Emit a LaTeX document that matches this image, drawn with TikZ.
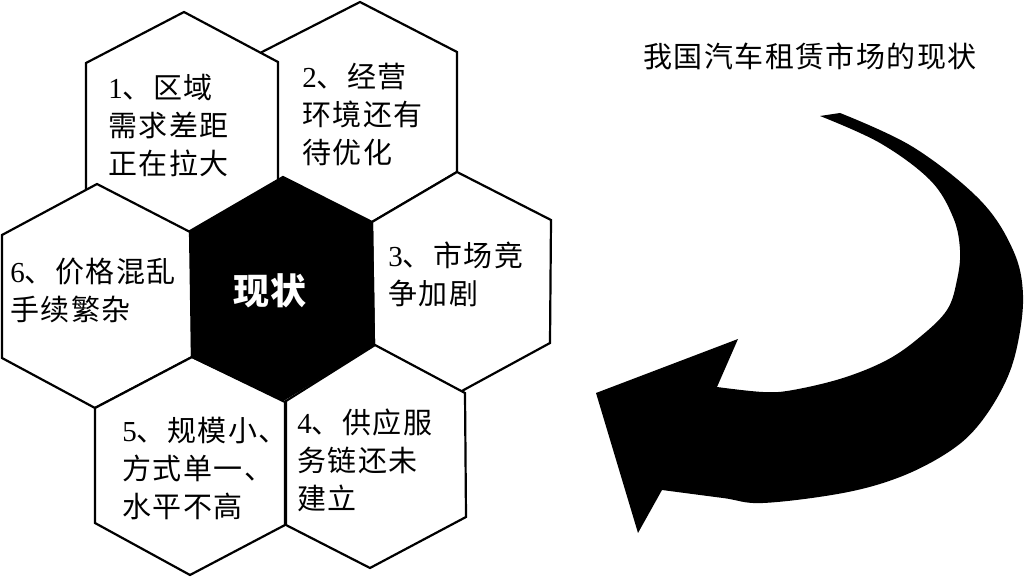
\documentclass[tikz,border=0pt]{standalone}
\usepackage{fontspec}
\setmainfont{Liberation Serif}
\newfontfamily\cjk[LetterSpace=5]{Noto Sans CJK SC}
\begin{document}
\begin{tikzpicture}[x=0.5pt,y=-0.5pt,
  hexa/.style={draw=black, fill=white, line width=1.1pt, line join=miter},
  hexc/.style={draw=black, fill=black, line width=1.1pt, line join=miter},
  hextext/.style={font=\cjk\fontsize{14.5}{19}\selectfont, align=left, anchor=west, inner sep=0pt},
  ctext/.style={font=\cjk\bfseries\fontsize{18}{20}\selectfont, text=white, inner sep=0pt},
  ttext/.style={font=\cjk\fontsize{14.5}{17}\selectfont, inner sep=0pt}]
\useasboundingbox (0,0) rectangle (1024,577);
% hexagons
\draw[hexa] (360,2) -- (457,52) -- (457,172) -- (372,222) -- (360,230) -- (262,172) -- (262,52) -- cycle;   % 2
\draw[hexa] (184,12) -- (278,62) -- (278,188) -- (182,238) -- (86,189) -- (86,63) -- cycle;    % 1
\draw[hexa] (457,172) -- (551,220) -- (550,343) -- (460,392) -- (374,345) -- (372,222) -- cycle; % 3
\draw[hexa] (97,184) -- (192,233) -- (192,357) -- (95,408) -- (2,358) -- (2,235) -- cycle;     % 6
\draw[hexa] (192,357) -- (285,402) -- (285,525) -- (190,575) -- (95,523) -- (95,408) -- cycle; % 5
\draw[hexa] (375,345) -- (465,393) -- (466,517) -- (370,568) -- (286,525) -- (286,401) -- cycle; % 4
\draw[hexc] (283,177) -- (372,222) -- (374,345) -- (283,400) -- (192,357) -- (190,231) -- cycle; % centre
% texts
\node[hextext] (t1) at (108,125) {{\rmfamily 1}、区域\\需求差距\\正在拉大};
\node[hextext] (t2) at (302,114) {{\rmfamily 2}、经营\\环境还有\\待优化};
\node[hextext] (t3) at (388,274) {{\rmfamily 3}、市场竞\\争加剧};
\node[hextext] (t6) at (10,290) {{\rmfamily 6}、价格混乱\\手续繁杂};
\node[hextext] (t5) at (122,468) {{\rmfamily 5}、规模小、\\方式单一、\\水平不高};
\node[hextext] (t4) at (297,460) {{\rmfamily 4}、供应服\\务链还未\\建立};
\node[ctext] (c) at (270,291) {现状};
\node[ttext] (title) at (810,56) {我国汽车租赁市场的现状};
% curved arrow
\fill[black] plot[smooth, tension=0.6] coordinates {(840,113) (913,147) (980,200) (1013,250) (1023,295) (1017,347) (1003,387) (977,427) (947,453) (900,477) (843,493) (763,503) (723,498) (662,490)}
  -- (638,533) -- (596,393) -- (738,339)
  -- plot[smooth, tension=0.6] coordinates {(717,387) (763,392) (793,390) (843,378) (887,360) (920,337) (947,310) (957,280) (960,250) (953,217) (930,180) (880,143) (820,116)}
  -- cycle;
\end{tikzpicture}
\end{document}
